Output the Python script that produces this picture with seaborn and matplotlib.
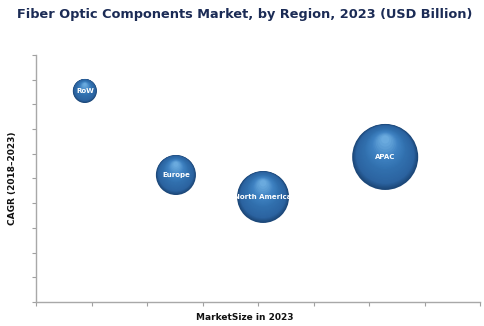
import matplotlib
matplotlib.use("Agg")
import matplotlib.pyplot as plt
import matplotlib.transforms as mtransforms
import matplotlib.colors as mcolors
import seaborn as sns
import pandas as pd
import numpy as np

regions = ["RoW", "Europe", "North America", "APAC"]
market_size = [0.88, 2.52, 4.09, 6.29]
cagr = [8.54, 5.14, 4.25, 5.87]
bubble_size = [300, 830, 1400, 2260]

df = pd.DataFrame({"region": regions, "x": market_size, "y": cagr, "s": bubble_size})

sns.set_style("white")
plt.rcParams['font.family'] = ['DejaVu Sans']

fig = plt.figure(figsize=(4.84, 3.26), dpi=100)
ax = fig.add_axes([0.0744, 0.0736, 0.9176, 0.758])

# base spheres
sns.scatterplot(data=df, x="x", y="y", size="s", sizes=(min(bubble_size), max(bubble_size)),
                size_norm=(min(bubble_size), max(bubble_size)), color="#1c4778",
                edgecolor="none", legend=False, ax=ax, zorder=3)

# glossy shading layers (smooth gradient, highlight towards the top)
stops = [(0.0, "#1c4778"), (0.18, "#2b63a0"), (0.55, "#3170ae"), (0.8, "#3f82c2"), (1.0, "#6aaade")]
stop_t = [s[0] for s in stops]
stop_c = np.array([mcolors.to_rgb(s[1]) for s in stops])
n = 28
for k in range(1, n + 1):
    t = k / n
    frac = (1 - t) ** 1.2 * 0.97 + 0.015
    col = np.array([np.interp(t, stop_t, stop_c[:, j]) for j in range(3)])
    for xi, yi, si in zip(market_size, cagr, bubble_size):
        r_pt = np.sqrt(si) / 2.0
        shift = (1 - np.sqrt(frac)) * r_pt * 0.6
        off = mtransforms.offset_copy(ax.transData, fig=fig, x=0, y=shift, units="points")
        ax.scatter([xi], [yi], s=[si * frac], color=col, edgecolor="none",
                   transform=off, zorder=4)

for xi, yi, name, si in zip(market_size, cagr, regions, bubble_size):
    ax.text(xi, yi, name, ha="center", va="center", color="white", fontsize=5,
            fontweight="bold", zorder=6)

ax.set_xlim(0, 8)
ax.set_ylim(0, 10)
ax.set_xticks(np.arange(0, 9, 1))
ax.set_yticks(np.arange(0, 11, 1))
ax.set_xticklabels([])
ax.set_yticklabels([])
ax.tick_params(axis="both", which="both", length=3, width=0.8, color="#a0a0a0",
               bottom=True, left=True, direction="out")
for side in ["top", "right"]:
    ax.spines[side].set_visible(False)
for side in ["left", "bottom"]:
    ax.spines[side].set_color("#a8a8a8")
    ax.spines[side].set_linewidth(1.0)

ax.set_xlabel("MarketSize in 2023", fontsize=6.5, fontweight="bold", color="#111111")
ax.xaxis.set_label_coords(0.47, -0.045)
ax.set_ylabel("CAGR (2018–2023)", fontsize=6.5, fontweight="bold", color="#111111")
ax.yaxis.set_label_coords(-0.042, 0.5)

fig.text(0.505, 0.955, "Fiber Optic Components Market, by Region, 2023 (USD Billion)",
         ha="center", va="center", fontsize=9.3, fontweight="bold", color="#1b2b55")

fig.savefig("out.png", dpi=100)
